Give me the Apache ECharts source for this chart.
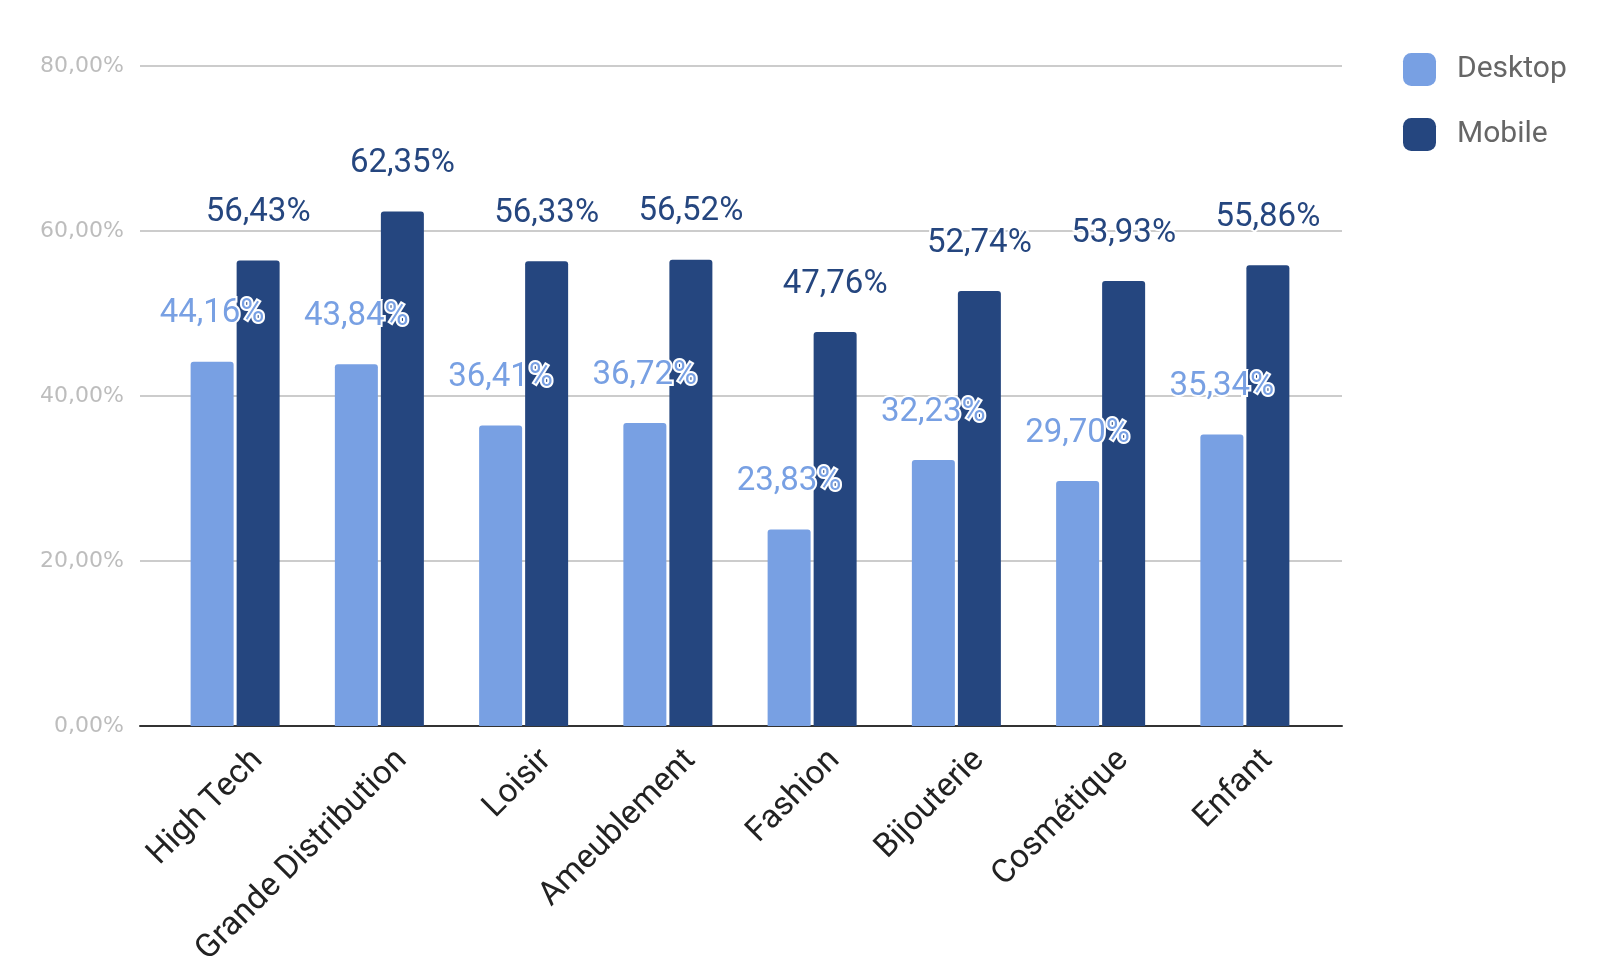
<!DOCTYPE html>
<html>
<head>
<meta charset="utf-8">
<script src="https://cdn.jsdelivr.net/npm/echarts@6/dist/echarts.min.js"></script>
<style>
html,body{margin:0;padding:0;background:#fff;}
#chart{width:1600px;height:975px;}
</style>
</head>
<body>
<div id="chart"></div>
<script>
const categories = ['High Tech', 'Grande Distribution', 'Loisir', 'Ameublement', 'Fashion', 'Bijouterie', 'Cosmétique', 'Enfant'];
const desktopValues = [44.16, 43.84, 36.41, 36.72, 23.83, 32.23, 29.70, 35.34];
const mobileValues = [56.43, 62.35, 56.33, 56.52, 47.76, 52.74, 53.93, 55.86];
const yTicks = [0, 20, 40, 60, 80];

const fmt = v => v.toFixed(2).replace('.', ',') + '%';
const FONT = 'Roboto';
const desktopColor = '#78a0e3';
const mobileColor = '#25467f';

const chart = echarts.init(document.getElementById('chart'));
chart.setOption({
  animation: false,
  textStyle: { fontFamily: FONT },
  legend: {
    orient: 'vertical',
    left: 1403,
    top: 53,
    itemWidth: 33,
    itemHeight: 33,
    itemGap: 32,
    padding: 0,
    icon: 'roundRect',
    textStyle: { fontSize: 30, color: '#666', fontFamily: FONT, padding: [0, 0, 0, 16] },
    data: ['Desktop', 'Mobile']
  },
  grid: [
    { left: 140, right: 258, top: 66, bottom: 249 },
    { left: 163, right: 283, top: 66, bottom: 249 }
  ],
  xAxis: [
    {
      gridIndex: 0, type: 'value', min: 0, max: 1,
      axisLine: { show: true, lineStyle: { color: '#333', width: 2 } },
      axisTick: { show: false }, axisLabel: { show: false }, splitLine: { show: false }
    },
    {
      gridIndex: 1, type: 'category', data: categories,
      axisLine: { show: false }, axisTick: { show: false }, splitLine: { show: false },
      axisLabel: {
        interval: 0, rotate: 45, fontSize: 33, color: '#222', fontFamily: FONT,
        margin: 52, padding: [0, -32, 0, 0]
      }
    }
  ],
  yAxis: [
    {
      gridIndex: 0, type: 'value', min: yTicks[0], max: yTicks[yTicks.length - 1], interval: 20,
      axisLine: { show: false }, axisTick: { show: false },
      axisLabel: { formatter: fmt, fontSize: 22, color: '#bdbdbd', margin: 16, fontFamily: 'DejaVu Sans' },
      splitLine: { show: true, lineStyle: { color: '#cccccc', width: 2 } }
    },
    {
      gridIndex: 1, type: 'value', min: yTicks[0], max: yTicks[yTicks.length - 1], interval: 20,
      show: false, splitLine: { show: false }
    }
  ],
  series: [
    {
      name: 'Desktop', type: 'bar', xAxisIndex: 1, yAxisIndex: 1,
      data: desktopValues, barWidth: 43, barGap: '7%',
      itemStyle: { color: desktopColor, borderRadius: [3, 3, 0, 0] },
      label: {
        show: true, position: 'top', distance: 31, formatter: p => fmt(p.value),
        fontSize: 33, color: desktopColor, fontFamily: FONT,
        textBorderColor: '#fff', textBorderWidth: 4
      }
    },
    {
      name: 'Mobile', type: 'bar', xAxisIndex: 1, yAxisIndex: 1,
      data: mobileValues, barWidth: 43, barGap: '7%',
      itemStyle: { color: mobileColor, borderRadius: [3, 3, 0, 0] },
      label: {
        show: true, position: 'top', distance: 31, formatter: p => fmt(p.value),
        fontSize: 33, color: mobileColor, fontFamily: FONT,
        textBorderColor: '#fff', textBorderWidth: 4
      }
    }
  ]
});
</script>
</body>
</html>
